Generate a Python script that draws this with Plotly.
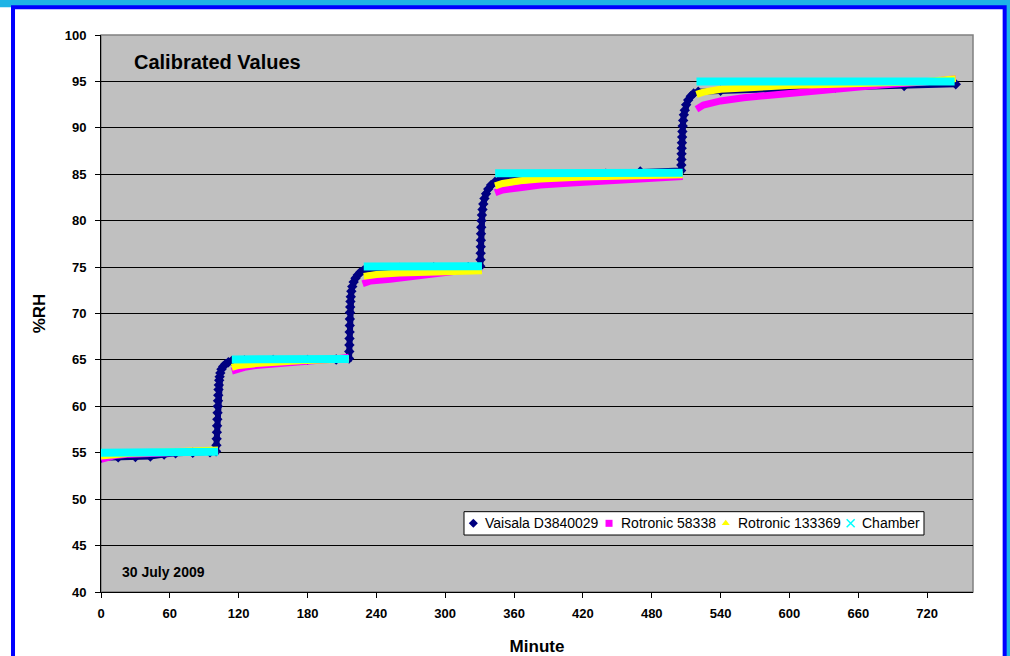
import plotly.graph_objects as go

# ---- data (minutes, %RH) ----
vaisala_min = [0, 15, 30, 43, 55, 65, 80, 95, 100.3,
               100.6, 100.8, 101.0, 101.2, 101.4, 101.6, 101.8, 102.0, 102.2, 102.4, 102.7, 103.0, 103.4,
               104.0, 105.0, 106.5, 108.5, 111, 114,
               125, 150, 180, 205, 216.2,
               216.4, 216.5, 216.6, 216.7, 216.8, 216.9, 217.0, 217.2, 217.4, 217.7, 218.2, 219.0, 220.2,
               221.8, 223.8, 226, 228.7,
               240, 260, 290, 320, 330.6,
               330.8, 330.9, 331.0, 331.1, 331.2, 331.4, 331.6, 332.0, 332.5, 333.2, 334.2, 335.6, 337.5,
               340, 343.5, 348, 354, 368,
               400, 440, 470, 505.6,
               505.8, 505.9, 506.0, 506.1, 506.3, 506.5, 506.7, 507.0, 507.4, 508.0, 508.8, 510.0, 511.8,
               514, 516.5, 520.5,
               540, 580, 640, 700, 745]
vaisala_rh = [54.45, 54.5, 54.55, 54.6, 54.8, 54.95, 55.0, 55.05, 55.15,
              55.8, 56.5, 57.2, 57.9, 58.6, 59.3, 60.0, 60.6, 61.2, 61.8, 62.3, 62.8, 63.2,
              63.6, 64.0, 64.3, 64.55, 64.75, 64.9,
              64.95, 65.0, 65.0, 65.05, 65.15,
              65.9, 66.6, 67.3, 68.0, 68.7, 69.4, 70.1, 70.7, 71.3, 71.8, 72.4, 72.9, 73.4,
              73.8, 74.15, 74.45, 74.65,
              74.85, 74.9, 74.95, 75.0, 75.1,
              75.8, 76.5, 77.2, 77.9, 78.6, 79.3, 80.0, 80.6, 81.2, 81.8, 82.4, 82.9, 83.4,
              83.85, 84.2, 84.45, 84.6, 84.75,
              84.9, 85.05, 85.3, 85.4,
              86.0, 86.6, 87.2, 87.8, 88.4, 89.0, 89.6, 90.2, 90.8, 91.4, 91.9, 92.5, 93.0,
              93.4, 93.7, 93.9,
              94.0, 94.15, 94.35, 94.5, 94.7]

rot58338_min = [0, 5, 12, 25, 40, 60, 80, 102, None,
                114, 118, 125, 135, 150, 170, 190, 205, 216, None,
                228, 235, 252, 275, 300, 315, 332, None,
                343.5, 350, 365, 383, 410, 440, 467, 490, 507, None,
                519, 525, 540, 560, 600, 640, 680, 720, 745]
rot58338_rh = [54.3, 54.5, 54.7, 54.85, 54.95, 55.05, 55.1, 55.2, None,
               63.8, 64.0, 64.2, 64.4, 64.6, 64.8, 64.95, 65.1, 65.3, None,
               73.2, 73.5, 73.7, 74.0, 74.3, 74.6, 74.9, None,
               83.0, 83.3, 83.55, 83.85, 84.05, 84.25, 84.45, 84.6, 84.75, None,
               92.0, 92.45, 92.9, 93.25, 93.7, 94.2, 94.6, 94.95, 95.3]

rot133369_min = [0, 10, 25, 50, 80, 102, None,
                 114, 120, 135, 155, 180, 216, None,
                 229, 240, 260, 290, 332, None,
                 343.5, 350, 365, 383, 420, 467, 507, None,
                 519, 525, 540, 570, 600, 640, 680, 720, 745]
rot133369_rh = [54.65, 54.8, 54.95, 55.05, 55.15, 55.3, None,
                64.2, 64.4, 64.6, 64.8, 64.95, 65.1, None,
                74.0, 74.2, 74.35, 74.5, 74.6, None,
                83.75, 84.0, 84.3, 84.5, 84.7, 84.85, 84.95, None,
                93.6, 93.85, 94.15, 94.4, 94.55, 94.7, 94.85, 95.0, 95.3]

chamber_min = [0, 25, 50, 75, 102, None,
               114, 150, 185, 216, None,
               229, 260, 300, 332, None,
               343.5, 400, 450, 507, None,
               519, 600, 680, 744]
chamber_rh = [55.0, 55.05, 55.0, 55.05, 55.1, None,
              65.05, 65.05, 65.1, 65.1, None,
              75.05, 75.05, 75.1, 75.1, None,
              85.1, 85.1, 85.1, 85.15, None,
              95.0, 95.0, 95.0, 95.0]

series_names = ["Vaisala D3840029", "Rotronic 58338", "Rotronic 133369", "Chamber"]
x_ticks = [0, 60, 120, 180, 240, 300, 360, 420, 480, 540, 600, 660, 720]
y_ticks = [40, 45, 50, 55, 60, 65, 70, 75, 80, 85, 90, 95, 100]

NAVY, MAG, YEL, CYA = "#000080", "#FF00FF", "#FFFF00", "#00FFFF"
FONT = "Liberation Sans, Arial, sans-serif"

fig = go.Figure()
fig.add_trace(go.Scatter(x=vaisala_min, y=vaisala_rh, mode="lines+markers",
                         line=dict(color=NAVY, width=6),
                         marker=dict(symbol="diamond", size=8, color=NAVY),
                         showlegend=False, hoverinfo="skip"))
fig.add_trace(go.Scatter(x=rot58338_min, y=rot58338_rh, mode="lines",
                         line=dict(color=MAG, width=7), connectgaps=False,
                         showlegend=False, hoverinfo="skip"))
fig.add_trace(go.Scatter(x=rot133369_min, y=rot133369_rh, mode="lines",
                         line=dict(color=YEL, width=7), connectgaps=False,
                         showlegend=False, hoverinfo="skip"))
fig.add_trace(go.Scatter(x=chamber_min, y=chamber_rh, mode="lines",
                         line=dict(color=CYA, width=8), connectgaps=False,
                         showlegend=False, hoverinfo="skip"))

# ---- legend box (Excel style, drawn on an overlay axis in plot-fraction units) ----
LX0, LX1, LY0, LY1 = 0.4163, 0.9438, 0.1023, 0.1442
fig.add_trace(go.Scatter(x=[LX0, LX1, LX1, LX0, LX0], y=[LY0, LY0, LY1, LY1, LY0],
                         xaxis="x2", yaxis="y2", mode="lines", fill="toself",
                         fillcolor="white", line=dict(color="black", width=1),
                         showlegend=False, hoverinfo="skip"))
leg_sym_x = [0.4270, 0.5826, 0.7164, 0.8597]
leg_txt_x = [0.4384, 0.5940, 0.7279, 0.8704]
leg_y = 0.1233
for name, sym, col, sx, tx in zip(series_names,
                                  ["diamond", "square", "triangle-up", "x-thin-open"],
                                  [NAVY, MAG, YEL, CYA], leg_sym_x, leg_txt_x):
    mk = dict(symbol=sym, size=7, color=col, line=dict(width=0))
    if sym == "x-thin-open":
        mk = dict(symbol=sym, size=8, color=col, line=dict(color=col, width=1.5))
    fig.add_trace(go.Scatter(x=[sx], y=[leg_y], xaxis="x2", yaxis="y2", mode="markers",
                             name=name, marker=mk, showlegend=False, hoverinfo="skip",
                             cliponaxis=False))
    fig.add_annotation(text=name, xref="paper", yref="paper", x=tx, y=leg_y,
                       xanchor="left", yanchor="middle", showarrow=False,
                       font=dict(family=FONT, size=14, color="black"))

# ---- frame: cyan page edge, white chart area with blue border, grey plot area ----
fig.add_shape(type="rect", xref="paper", yref="paper", layer="below",
              x0=-0.2, x1=1.2, y0=1.0499, y1=1.2,
              fillcolor="#1EB4E6", line=dict(width=0))
fig.add_shape(type="rect", xref="paper", yref="paper", layer="below",
              x0=1.0363, x1=1.2, y0=-0.3, y1=1.2,
              fillcolor="#1EB4E6", line=dict(width=0))
fig.add_shape(type="rect", xref="paper", yref="paper", layer="below",
              x0=-0.1009, x1=1.0363, y0=-0.25, y1=1.0499,
              fillcolor="white", line=dict(color="#0000FF", width=4))
fig.add_shape(type="rect", xref="paper", yref="paper", layer="below",
              x0=0, x1=1, y0=0, y1=1,
              fillcolor="#C0C0C0", line=dict(color="#808080", width=1.5))

fig.add_annotation(text="Calibrated Values", xref="paper", yref="paper",
                   x=0.036, y=0.9515, xanchor="left", yanchor="middle", showarrow=False,
                   font=dict(family=FONT, size=20, color="black", weight="bold"))
fig.add_annotation(text="30 July 2009", xref="paper", yref="paper",
                   x=0.0721, y=0.0364, xanchor="center", yanchor="middle", showarrow=False,
                   font=dict(family=FONT, size=14, color="black", weight="bold"))

fig.update_layout(
    width=1010, height=656,
    margin=dict(l=101, r=37, t=35, b=64),
    paper_bgcolor="white",
    plot_bgcolor="#C0C0C0",
    font=dict(family=FONT, color="black"),
    showlegend=False,
    xaxis=dict(range=[0, 760], tickvals=x_ticks, showgrid=False, zeroline=False,
               showline=True, linecolor="black", linewidth=1, automargin=False,
               ticks="outside", ticklen=5, tickcolor="black", ticklabelstandoff=4,
               tickfont=dict(family=FONT, size=13, color="black", weight="bold"),
               title=dict(text="Minute", standoff=22,
                          font=dict(family=FONT, size=17, color="black", weight="bold"))),
    yaxis=dict(range=[40, 100], tickvals=y_ticks, showgrid=True, gridcolor="black", gridwidth=1,
               zeroline=False, showline=True, linecolor="black", linewidth=1, automargin=False,
               ticks="outside", ticklen=5, tickcolor="black", ticklabelstandoff=6,
               tickfont=dict(family=FONT, size=13, color="black", weight="bold"),
               title=dict(text="%RH", standoff=14,
                          font=dict(family=FONT, size=17, color="black", weight="bold"))),
    xaxis2=dict(overlaying="x", range=[0, 1], visible=False, fixedrange=True),
    yaxis2=dict(overlaying="y", range=[0, 1], visible=False, fixedrange=True),
)

fig.write_html("out.html", config={"displayModeBar": False},
               post_script="document.body.style.margin='0px';")
